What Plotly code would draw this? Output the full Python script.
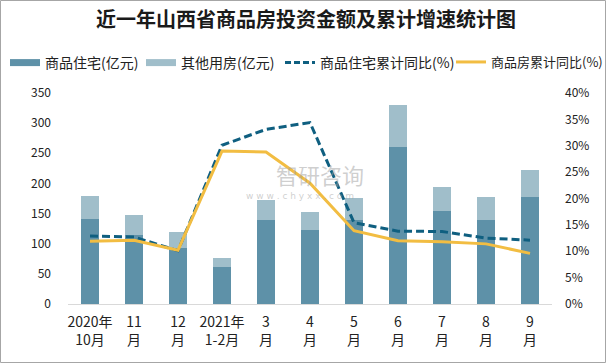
import plotly.graph_objects as go

categories = ["2020年<br>10月", "11<br>月", "12<br>月", "2021年<br>1-2月", "3<br>月", "4<br>月",
              "5<br>月", "6<br>月", "7<br>月", "8<br>月", "9<br>月"]
residential = [141, 114, 93, 61, 139, 123, 139, 260, 154, 139, 177.5]
other = [38, 34, 26.5, 15, 33.5, 30, 37, 70, 40, 38.5, 44.5]
res_cum_yoy = [12.9, 12.7, 10.1, 30.1, 33.1, 34.4, 15.4, 13.8, 13.75, 12.5, 12.1]
all_cum_yoy = [11.9, 12.1, 10.2, 29.0, 28.8, 22.9, 13.9, 12.0, 11.8, 11.4, 9.6]

left_ticks = [0, 50, 100, 150, 200, 250, 300, 350]
right_ticks = [0, 5, 10, 15, 20, 25, 30, 35, 40]

font_cn = "Noto Sans CJK SC"
c_res, c_other, c_dash, c_solid = "#5E91A8", "#A0BECA", "#0F5F80", "#F2BD42"

L, R, T, B = 68, 54, 93, 59
W, H = 606, 363
PW, PH = W - L - R, H - T - B

fig = go.Figure()
fig.add_trace(go.Bar(x=categories, y=residential, name="商品住宅(亿元)", showlegend=False,
                     marker=dict(color=c_res, line=dict(width=0))))
fig.add_trace(go.Bar(x=categories, y=other, name="其他用房(亿元)", showlegend=False,
                     marker=dict(color=c_other, line=dict(width=0))))
fig.add_trace(go.Scatter(x=categories, y=res_cum_yoy, name="商品住宅累计同比(%)", yaxis="y2",
                         mode="lines", showlegend=False,
                         line=dict(color=c_dash, width=3, dash="8px,4px")))
fig.add_trace(go.Scatter(x=categories, y=all_cum_yoy, name="商品房累计同比(%)", yaxis="y2",
                         mode="lines", showlegend=False,
                         line=dict(color=c_solid, width=3)))

# legend entries (Excel-style line swatches), one legend each for exact placement
legend_items = [("商品住宅(亿元)", c_res, 7, "solid", 47, 14),
                ("其他用房(亿元)", c_other, 7, "solid", 183, 14),
                ("商品住宅累计同比(%)", c_dash, 3, "6px,3px", 322, 14),
                ("商品房累计同比(%)", c_solid, 3, "solid", 493, 13)]
legend_layouts = {}
for i, (name, color, width, dash, text_x, fsize) in enumerate(legend_items):
    key = "legend" if i == 0 else f"legend{i + 1}"
    fig.add_trace(go.Scatter(x=[None], y=[None], mode="lines", name=name, legend=key,
                             line=dict(color=color, width=width, dash=dash)))
    legend_layouts[key] = dict(orientation="h", xref="paper", x=(text_x - 42 - L) / PW,
                               xanchor="left", yref="paper", y=(H - B - 47) / PH,
                               yanchor="top", bgcolor="rgba(0,0,0,0)", itemwidth=30,
                               font=dict(family=font_cn, size=fsize, color="#222"))

fig.update_layout(
    width=W, height=H,
    margin=dict(l=L, r=R, t=T, b=B, autoexpand=False),
    paper_bgcolor="white", plot_bgcolor="white",
    barmode="stack", bargap=0.61,
    showlegend=True,
    title=dict(text="<b>近一年山西省商品房投资金额及累计增速统计图</b>", x=0.505, xanchor="center",
               y=1 - 20 / H, yanchor="middle",
               font=dict(family=font_cn, size=20, color="#1a1a1a")),
    xaxis=dict(showline=True, linecolor="#D9D9D9", linewidth=1, ticks="", showgrid=False,
               automargin=False, ticklabelstandoff=5,
               tickfont=dict(family=font_cn, size=14, color="#222"), fixedrange=True),
    yaxis=dict(range=[0, 350], tickvals=left_ticks, showgrid=False, zeroline=False,
               showline=False, ticks="", ticklabelstandoff=16, automargin=False,
               tickfont=dict(family=font_cn, size=12, color="#222")),
    yaxis2=dict(range=[0, 40], tickvals=right_ticks, ticktext=[f"{v}%" for v in right_ticks],
                overlaying="y", side="right", showgrid=False, zeroline=False, showline=False,
                ticks="", ticklabelstandoff=12, automargin=False,
                tickfont=dict(family=font_cn, size=12, color="#222")),
    **legend_layouts,
)

# watermark
fig.add_annotation(x=0.52, y=(H - B - 174) / PH, xref="paper", yref="paper", text="智研咨询",
                   showarrow=False,
                   font=dict(family=font_cn, size=22, color="rgba(160,160,160,0.5)"))
fig.add_annotation(x=0.48, y=(H - B - 196) / PH, xref="paper", yref="paper",
                   text="w w w . c h y x x . c o m", showarrow=False,
                   font=dict(family="DejaVu Sans", size=9, color="rgba(160,160,160,0.5)"))

# outer border
fig.add_shape(type="rect", xref="paper", yref="paper",
              x0=(0.5 - L) / PW, x1=(W - 0.5 - L) / PW,
              y0=(H - B - (H - 0.5)) / PH, y1=(H - B - 0.5) / PH,
              line=dict(color="#A6A6A6", width=1), fillcolor="rgba(0,0,0,0)", layer="below")

fig.write_html("out.html", config={"displayModeBar": False},
               post_script="document.body.style.margin='0';document.body.style.overflow='hidden';")
